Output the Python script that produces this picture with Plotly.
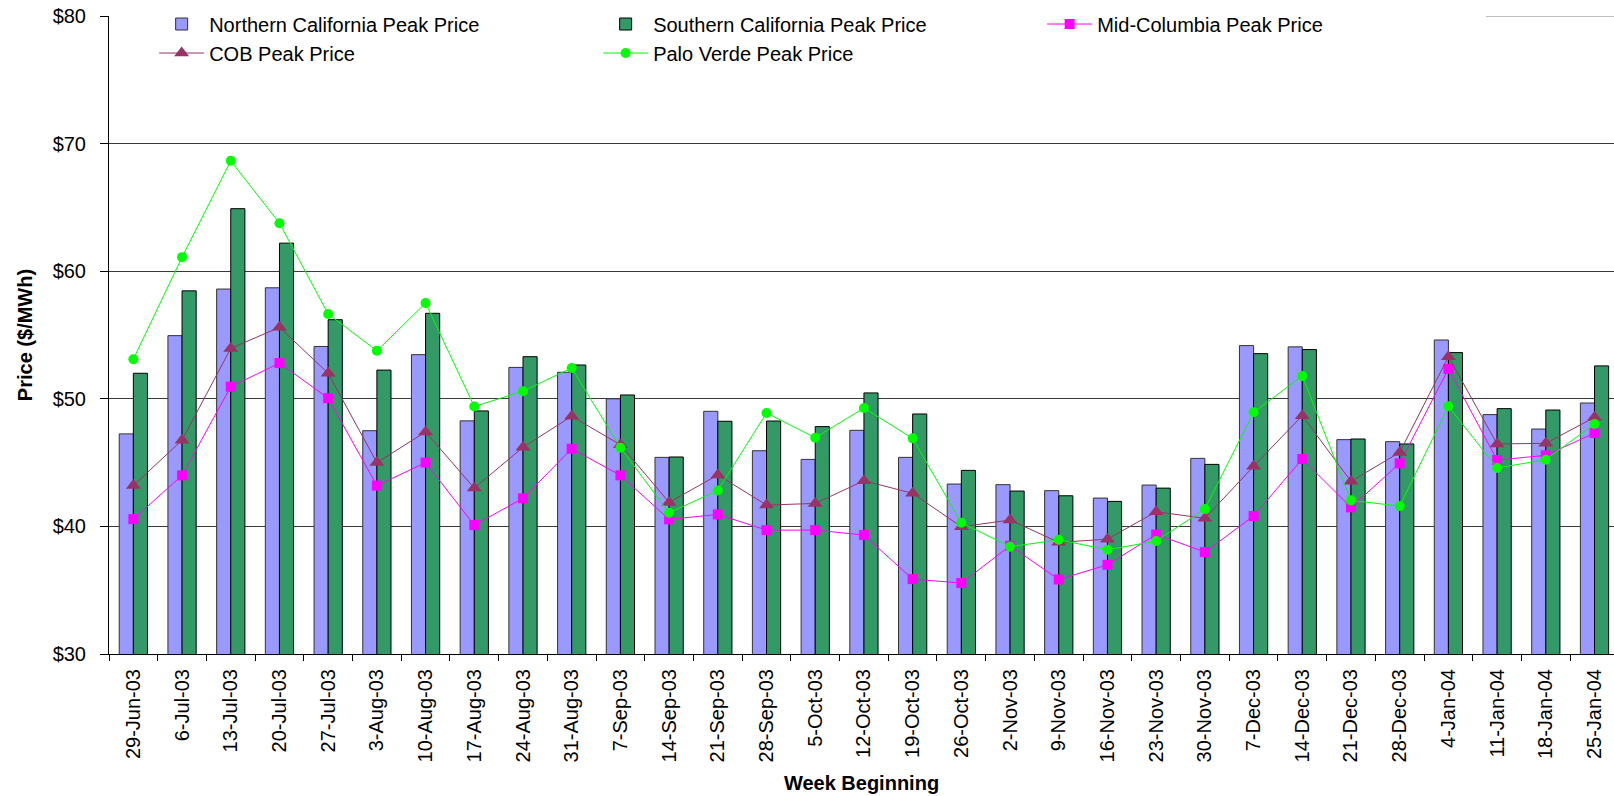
import plotly.graph_objects as go

# Weekly peak prices, Jun 2003 - Jan 2004

weeks = ["29-Jun-03", "6-Jul-03", "13-Jul-03", "20-Jul-03", "27-Jul-03", "3-Aug-03",
         "10-Aug-03", "17-Aug-03", "24-Aug-03", "31-Aug-03", "7-Sep-03", "14-Sep-03",
         "21-Sep-03", "28-Sep-03", "5-Oct-03", "12-Oct-03", "19-Oct-03", "26-Oct-03",
         "2-Nov-03", "9-Nov-03", "16-Nov-03", "23-Nov-03", "30-Nov-03", "7-Dec-03",
         "14-Dec-03", "21-Dec-03", "28-Dec-03", "4-Jan-04", "11-Jan-04", "18-Jan-04",
         "25-Jan-04"]

norcal = [47.25, 54.95, 58.6, 58.7, 54.1, 47.5, 53.46, 48.27, 52.46, 52.08, 50.0,
          45.41, 49.02, 45.93, 45.25, 47.53, 45.41, 43.32, 43.27, 42.8, 42.22, 43.24,
          45.33, 54.17, 54.07, 46.8, 46.64, 54.61, 48.76, 47.63, 49.67]

socal = [52.0, 58.46, 64.9, 62.2, 56.2, 52.25, 56.7, 49.05, 53.3, 52.65, 50.3,
         45.44, 48.24, 48.26, 47.82, 50.46, 48.81, 44.39, 42.77, 42.4, 41.96, 43.0,
         44.86, 53.54, 53.86, 46.85, 46.46, 53.62, 49.23, 49.12, 52.58]

midc = [40.57, 44.0, 50.95, 52.8, 50.05, 43.2, 45.0, 40.1, 42.2, 46.09, 44.0,
        40.55, 40.94, 39.71, 39.71, 39.32, 35.87, 35.56, 38.48, 35.84, 36.99, 39.37,
        37.99, 40.81, 45.28, 41.49, 44.94, 52.34, 45.2, 45.57, 47.32]

cob = [43.2, 46.76, 53.95, 55.6, 52.0, 45.0, 47.4, 43.0, 46.2, 48.63, 46.4,
       41.88, 44.03, 41.67, 41.8, 43.58, 42.59, 39.97, 40.5, 38.75, 39.0, 41.15,
       40.63, 44.71, 48.68, 43.53, 45.8, 53.3, 46.46, 46.51, 48.55]

palo_verde = [53.1, 61.1, 68.65, 63.76, 56.65, 53.76, 57.5, 49.4, 50.6, 52.42, 46.17,
              41.07, 42.82, 48.89, 46.95, 49.28, 46.9, 40.29, 38.41, 38.95, 38.17, 38.85,
              41.36, 48.94, 51.79, 42.04, 41.59, 49.41, 44.58, 45.23, 48.03]

FONT = "Liberation Sans, Arial, sans-serif"

fig = go.Figure()
fig.add_trace(go.Bar(x=weeks, y=norcal, name="Northern California Peak Price",
                     marker=dict(color="#9999FF", line=dict(color="#333333", width=1))))
fig.add_trace(go.Bar(x=weeks, y=socal, name="Southern California Peak Price",
                     marker=dict(color="#339966", line=dict(color="#000000", width=1))))
fig.add_trace(go.Scatter(x=weeks, y=midc, name="Mid-Columbia Peak Price", mode="lines+markers",
                         line=dict(color="#FF00FF", width=1),
                         marker=dict(symbol="square", size=10, color="#FF00FF")))
fig.add_trace(go.Scatter(x=weeks, y=cob, name="COB Peak Price", mode="lines+markers",
                         line=dict(color="#993366", width=1),
                         marker=dict(symbol="triangle-up", size=13, color="#993366")))
fig.add_trace(go.Scatter(x=weeks, y=palo_verde, name="Palo Verde Peak Price", mode="lines+markers",
                         line=dict(color="#00FF00", width=1),
                         marker=dict(symbol="circle", size=10, color="#00FF00")))

# visible piece of the $80 top line, right of the legend box
fig.add_shape(type="line", xref="paper", yref="y", x0=0.884, x1=1, y0=80, y1=80,
              line=dict(color="#808080", width=1), layer="below")

fig.update_layout(
    width=1614, height=796,
    margin=dict(l=109, r=0, t=16, b=142),
    paper_bgcolor="white", plot_bgcolor="white",
    font=dict(family=FONT, size=20, color="black"),
    barmode="group", bargap=0.42, bargroupgap=0,
    showlegend=True,
    legend=dict(orientation="h", x=0.03, y=1.018, xanchor="left", yanchor="top",
                bgcolor="white", entrywidth=384, itemwidth=45,
                font=dict(family=FONT, size=20), tracegroupgap=0),
    xaxis=dict(
        title=dict(text="<b>Week Beginning</b>", font=dict(size=20), standoff=14),
        type="category", range=[-0.5, 30.4], tickangle=-90,
        tickson="boundaries", ticks="outside", ticklen=6, tickcolor="black",
        showline=True, linecolor="black", linewidth=1, showgrid=False,
        ticklabelstandoff=6, automargin=False,
    ),
    yaxis=dict(
        title=dict(text="<b>Price ($/MWh)</b>", font=dict(size=20), standoff=14),
        range=[30, 80], dtick=10, tickprefix="$",
        ticks="outside", ticklen=8, tickcolor="black",
        showline=True, linecolor="black", linewidth=1,
        showgrid=True, gridcolor="#3a3a3a", gridwidth=1,
        ticklabelstandoff=10, automargin=False, zeroline=False,
    ),
)

# drop the default 8px page margin so the figure fills the window exactly
fig.write_html("out.html", config={"displayModeBar": False},
               post_script="document.body.style.margin='0';")
